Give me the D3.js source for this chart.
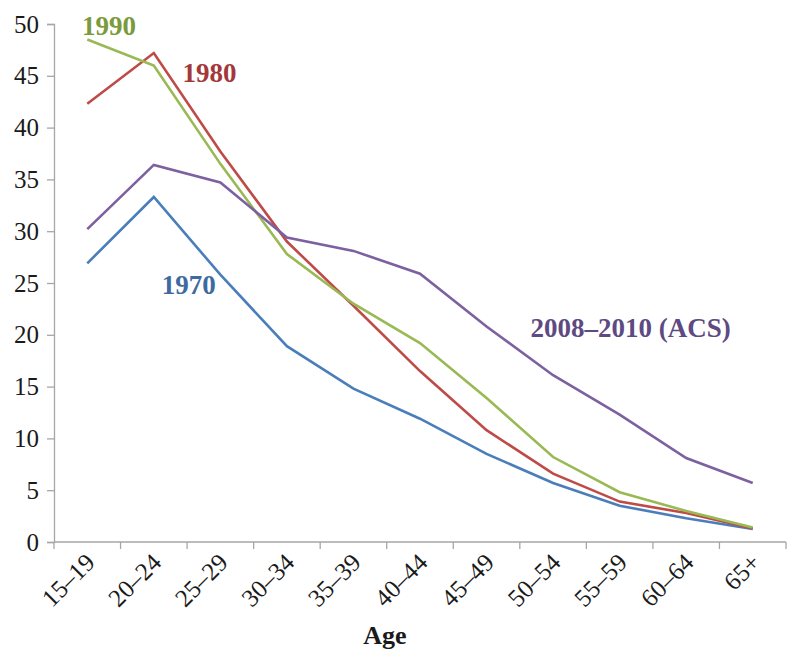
<!DOCTYPE html>
<html>
<head>
<meta charset="utf-8">
<script src="https://cdn.jsdelivr.net/npm/d3@7"></script>
<style>
  html, body { margin: 0; padding: 0; background: #fff; }
  svg { display: block; }
</style>
</head>
<body>
<svg id="chart" width="800" height="667"></svg>
<script>
const categories = ["15–19", "20–24", "25–29", "30–34", "35–39", "40–44", "45–49", "50–54", "55–59", "60–64", "65+"];
const yTicks = [0, 5, 10, 15, 20, 25, 30, 35, 40, 45, 50];
const seriesNames = ["1970", "1980", "1990", "2008–2010 (ACS)"];
const values1970 = [26.9, 33.3, 25.8, 18.9, 14.8, 11.9, 8.5, 5.7, 3.5, 2.3, 1.25];
const values1980 = [42.3, 47.2, 37.7, 29.0, 22.8, 16.5, 10.8, 6.6, 3.9, 2.8, 1.3];
const values1990 = [48.5, 46.0, 36.5, 27.8, 23.0, 19.2, 13.9, 8.2, 4.8, 3.0, 1.4];
const values2008 = [30.2, 36.4, 34.7, 29.4, 28.1, 25.9, 20.8, 16.1, 12.3, 8.1, 5.7];
const lineColors = ["#4a7ebb", "#be4b48", "#98b954", "#7d60a0"];
const labelColors = ["#3e6aa0", "#a3383a", "#7b9a3b", "#5e4a82"];
// label anchor positions in data space: category index (fractional) and value
const labelIdx = [1.12, 1.43, -0.08, 6.66];
const labelVal = [23.9, 44.4, 48.9, 19.8];
const axisTitle = "Age";

const FONT = "'Liberation Serif'";
const svg = d3.select("#chart");
const mLeft = 54, mRight = 786, mTop = 24, mBottom = 542;

const xBand = d3.scaleBand().domain(categories).range([mLeft, mRight]).paddingInner(0).paddingOuter(0);
const xPos = c => xBand(c) + xBand.bandwidth() / 2;
const xIdx = d3.scaleLinear().domain([0, categories.length - 1]).range([xPos(categories[0]), xPos(categories[categories.length - 1])]);
const y = d3.scaleLinear().domain([0, 50]).range([mBottom, mTop]);

const axisColor = "#a6a6a6";

// Y axis
const yAxis = svg.append("g")
  .attr("transform", `translate(${mLeft},0)`)
  .call(d3.axisLeft(y).tickValues(yTicks).tickSize(7).tickPadding(8));
yAxis.attr("font-family", null).attr("font-size", null);
yAxis.select(".domain").attr("stroke", axisColor).attr("stroke-width", 1.3);
yAxis.selectAll(".tick line").attr("stroke", axisColor).attr("stroke-width", 1.3);
yAxis.selectAll(".tick text")
  .style("font-family", FONT)
  .style("font-size", "25px")
  .attr("fill", "#1a1a1a");

// X axis: line + boundary ticks
const xAxis = svg.append("g");
xAxis.append("line")
  .attr("x1", mLeft).attr("x2", mRight)
  .attr("y1", mBottom).attr("y2", mBottom)
  .attr("stroke", axisColor).attr("stroke-width", 1.3);
const boundaries = categories.map(c => xBand(c)).concat([xBand(categories[categories.length - 1]) + xBand.bandwidth()]);
xAxis.selectAll("line.tk").data(boundaries).enter().append("line")
  .attr("class", "tk")
  .attr("x1", d => d).attr("x2", d => d)
  .attr("y1", mBottom).attr("y2", mBottom + 7)
  .attr("stroke", axisColor).attr("stroke-width", 1.3);
xAxis.selectAll("text").data(categories).enter().append("text")
  .attr("transform", d => `translate(${xPos(d) + 9},${mBottom + 22}) rotate(-45)`)
  .attr("text-anchor", "end")
  .style("font-family", FONT)
  .style("font-size", "25px")
  .attr("fill", "#1a1a1a")
  .text(d => d);

// Axis title
svg.append("text")
  .attr("x", (mLeft + mRight) / 2 - 35)
  .attr("y", mBottom + 102)
  .attr("text-anchor", "middle")
  .style("font-family", FONT)
  .style("font-size", "26px")
  .style("font-weight", "bold")
  .attr("fill", "#1a1a1a")
  .text(axisTitle);

// Lines
const allValues = [values1970, values1980, values1990, values2008];
const line = d3.line()
  .x((d, i) => xPos(categories[i]))
  .y(d => y(d));
svg.append("g").selectAll("path").data(allValues).enter().append("path")
  .attr("d", d => line(d))
  .attr("fill", "none")
  .attr("stroke", (d, i) => lineColors[i])
  .attr("stroke-width", 2.6)
  .attr("stroke-linejoin", "miter");

// Series labels
svg.append("g").selectAll("text").data(seriesNames).enter().append("text")
  .attr("x", (d, i) => xIdx(labelIdx[i]))
  .attr("y", (d, i) => y(labelVal[i]))
  .style("font-family", FONT)
  .style("font-size", "27px")
  .style("font-weight", "bold")
  .attr("fill", (d, i) => labelColors[i])
  .text(d => d);
</script>
</body>
</html>
